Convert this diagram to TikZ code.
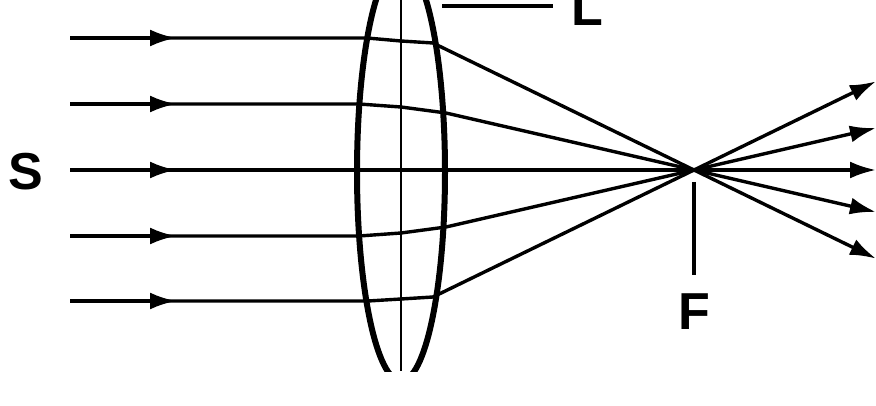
\documentclass[tikz,border=0pt]{standalone}
\usepackage{fontspec}
\setmainfont{Liberation Sans}
\usetikzlibrary{arrows.meta}
\begin{document}
\begin{tikzpicture}[x=1pt,y=-1pt,
  ray/.style={line width=3.4pt, line join=round},
  tip/.style={-{Latex[length=26pt,width=17pt]}},
  lbl/.style={font=\bfseries\fontsize{52}{52}\selectfont, inner sep=0pt}]
\useasboundingbox (0,0) rectangle (876,406);
\begin{scope}
\clip (0,0) rectangle (876,371);
\draw[line width=6pt] (401,172) ellipse [x radius=44, y radius=209];
\draw[line width=2.2pt] (401,0) -- (401,371);
\end{scope}
\coordinate (F) at (694,170);
\coordinate (Fb) at (694,182);
\coordinate (Fe) at (694,275);
\node[lbl] (Flab) at (694,312) {F};
\draw[line width=3.4pt] (Fb) -- (Fe);
\coordinate (La) at (442,6);
\coordinate (Lb) at (553,6);
\draw[line width=3.4pt] (La) -- (Lb);
\node[lbl] (Llab) at (587,8) {L};
\node[lbl] (Slab) at (26,172) {S};
\foreach \i/\y/\e/\a/\rx/\ry/\oy in {1/38/367/41/433/43/81.4, 2/104/359/107/446/113/128, 3/170/357/170/446/170/170, 4/236/359/233/446/227/212, 5/301/368/299/433/297/258.6}{
  \coordinate (s\i) at (70,\y);
  \coordinate (m\i) at (176,\y);
  \coordinate (e\i) at (\e,\y);
  \coordinate (c\i) at (401,\a);
  \coordinate (r\i) at (\rx,\ry);
  \coordinate (o\i) at (876,\oy);
  \draw[ray,tip] (s\i) -- (m\i);
  \draw[ray] (s\i) -- (e\i) -- (c\i) -- (r\i) -- (F);
  \draw[ray,tip] (F) -- (o\i);
}
\end{tikzpicture}
\end{document}
